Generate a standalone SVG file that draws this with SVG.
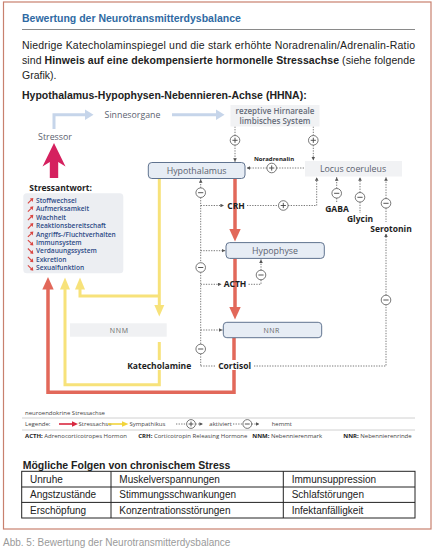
<svg xmlns="http://www.w3.org/2000/svg" xmlns:xlink="http://www.w3.org/1999/xlink" width="438" height="554" viewBox="0 0 438 554">
<style>
.t{font-family:"Liberation Sans",Arial,sans-serif;fill:#222}
.d{font-family:"Open Sans","Noto Sans",sans-serif}
.lbl{font-size:8.8px;fill:#5b6270}
.b{font-weight:bold;fill:#1e1e1e;font-size:8.5px}
.dash{fill:none;stroke:#555;stroke-width:0.8;stroke-dasharray:1.3 1.3}
.circ{fill:#fff;stroke:#555;stroke-width:0.8}
.sign{stroke:#444;stroke-width:0.9;fill:none}
.node{fill:#e7edf5;stroke:#60738f;stroke-width:1}
.red{fill:none;stroke:#e2685a;stroke-width:3.5}
.redf{fill:#e2685a}
.yel{fill:none;stroke:#f7e27a;stroke-width:3}
.yelf{fill:#f7e27a}
.blu{fill:none;stroke:#c6d5ea;stroke-width:3}
.bluf{fill:#c6d5ea}
.item{font-size:6.6px;font-weight:600;fill:#2d4a86}
.lg{font-size:6px;fill:#444}
.cell{font-size:10px;fill:#222}
.rz{font-family:"Open Sans","Noto Sans",sans-serif;font-size:8px;font-weight:600;fill:#666c78}
</style>
<defs>
<marker id="ah" viewBox="0 0 6 6" refX="6" refY="3" markerWidth="3.6" markerHeight="3.6" markerUnits="userSpaceOnUse" orient="auto"><path d="M0,0 L6,3 L0,6 z" fill="#555"/></marker>
<g id="plus"><circle r="4.8" class="circ"/><path d="M-2.6,0 H2.6 M0,-2.6 V2.6" class="sign"/></g>
<g id="minus"><circle r="4.8" class="circ"/><path d="M-2.6,0 H2.6" class="sign"/></g>
<g id="aup"><line x1="-2.6" y1="2.6" x2="1" y2="-1" stroke="#d9443f" stroke-width="1.1"/><polygon points="2.8,-2.8 -0.6,-2.2 2.2,1.2" fill="#d9443f"/></g>
<g id="adn"><line x1="-2.6" y1="-2.6" x2="1" y2="1" stroke="#d9443f" stroke-width="1.1"/><polygon points="2.8,2.8 -0.6,2.2 2.2,-1.2" fill="#d9443f"/></g>
</defs>

<rect x="3.5" y="2" width="427.5" height="527" fill="#fff" stroke="#c8806e" stroke-width="1.2"/>

<g id="header">
<text class="t" x="22" y="22" font-size="10.5" font-weight="bold" style="fill:#2f6aa3">Bewertung der Neurotransmitterdysbalance</text>
<line x1="22" y1="29.5" x2="415" y2="29.5" stroke="#8a8a8a" stroke-width="1"/>
<text class="t" x="22" y="49" font-size="10.5" textLength="393">Niedrige Katecholaminspiegel und die stark erhöhte Noradrenalin/Adrenalin-Ratio</text>
<text class="t" x="22" y="64" font-size="10.5" textLength="393">sind <tspan font-weight="bold">Hinweis auf eine dekompensierte hormonelle Stressachse</tspan> (siehe folgende</text>
<text class="t" x="22" y="78.5" font-size="10.5">Grafik).</text>
<text class="t" x="22" y="99" font-size="10.5" font-weight="bold">Hypothalamus-Hypophysen-Nebennieren-Achse (HHNA):</text>
</g>

<g id="connectors">
<path class="blu" d="M54,129 V114.7 H86"/>
<polygon class="bluf" points="85,109.5 85,120 93.5,114.7"/>
<path class="blu" d="M172,114.7 H217"/>
<polygon class="bluf" points="216,109.5 216,120 224.5,114.7"/>
<line class="red" x1="235" y1="178.5" x2="235" y2="230"/>
<polygon class="redf" points="229.3,229 240.7,229 235,241.5"/>
<line class="red" x1="235" y1="258.5" x2="235" y2="308"/>
<polygon class="redf" points="229.3,307 240.7,307 235,319.5"/>
<path class="red" d="M234,337.5 V392.3 H48 V288"/>
<polygon class="redf" points="42.3,289.5 53.7,289.5 48,277"/>
<line class="yel" x1="159.3" y1="178.5" x2="159.3" y2="306"/>
<polygon class="yelf" points="154.3,305 164.3,305 159.3,316.5"/>
<path class="yel" d="M159.3,296 H80 V288"/>
<polygon class="yelf" points="75,289.5 85,289.5 80,277.5"/>
<path class="yel" d="M159.3,342 V384.7 H65 V288"/>
<polygon class="yelf" points="60,289.5 70,289.5 65,277.5"/>
<line class="dash" x1="235" y1="126.5" x2="235" y2="135.5"/>
<line class="dash" x1="235" y1="145.1" x2="235" y2="161.8" marker-end="url(#ah)"/>
<line class="dash" x1="313.3" y1="126.5" x2="313.3" y2="135.5"/>
<line class="dash" x1="313.3" y1="145.1" x2="313.3" y2="160.5" marker-end="url(#ah)"/>
<line class="dash" x1="304" y1="168" x2="276.5" y2="168"/>
<line class="dash" x1="266.9" y1="168" x2="246.5" y2="168" marker-end="url(#ah)"/>
<line class="dash" x1="247" y1="205.5" x2="278.5" y2="205.5"/>
<polyline class="dash" points="288.1,205.5 316.7,205.5 316.7,177.2" marker-end="url(#ah)"/>
<line class="dash" x1="336.7" y1="188.5" x2="336.7" y2="177.2" marker-end="url(#ah)"/>
<line class="dash" x1="336.7" y1="198.1" x2="336.7" y2="203"/>
<line class="dash" x1="360" y1="192.5" x2="360" y2="177.2" marker-end="url(#ah)"/>
<line class="dash" x1="360" y1="202.1" x2="360" y2="213"/>
<line class="dash" x1="386" y1="198.5" x2="386" y2="177.2" marker-end="url(#ah)"/>
<line class="dash" x1="386" y1="208.1" x2="386" y2="222"/>
<polyline class="dash" points="254,366 386,366 386,304.8"/>
<line class="dash" x1="386" y1="295.2" x2="386" y2="233.5" marker-end="url(#ah)"/>
<line class="dash" x1="200.7" y1="187.9" x2="200.7" y2="179.2" marker-end="url(#ah)"/>
<line class="dash" x1="200.7" y1="197.5" x2="200.7" y2="262.7"/>
<line class="dash" x1="200.7" y1="272.3" x2="200.7" y2="344.2"/>
<line class="dash" x1="200.7" y1="353.8" x2="200.7" y2="366"/>
<line class="dash" x1="200.7" y1="366" x2="215.5" y2="366"/>
<line class="dash" x1="200.7" y1="205.5" x2="224" y2="205.5" marker-end="url(#ah)"/>
<line class="dash" x1="200.7" y1="250.7" x2="225.3" y2="250.7" marker-end="url(#ah)"/>
<line class="dash" x1="200.7" y1="284.3" x2="221.5" y2="284.3" marker-end="url(#ah)"/>
<line class="dash" x1="200.7" y1="330" x2="222.5" y2="330" marker-end="url(#ah)"/>
<polyline class="dash" points="248.5,284.3 261,284.3 261,279.8"/>
<line class="dash" x1="261" y1="270.2" x2="261" y2="259.3" marker-end="url(#ah)"/>
<use href="#plus" x="235" y="140.3"/>
<use href="#plus" x="313.3" y="140.3"/>
<use href="#plus" x="271.7" y="168"/>
<use href="#plus" x="283.3" y="205.5"/>
<use href="#minus" x="336.7" y="193.3"/>
<use href="#minus" x="360" y="197.3"/>
<use href="#minus" x="386" y="203.3"/>
<use href="#minus" x="386" y="300"/>
<use href="#minus" x="200.7" y="192.7"/>
<use href="#minus" x="200.7" y="267.5"/>
<use href="#minus" x="200.7" y="349"/>
<use href="#minus" x="261" y="275"/>
</g>

<g id="sinnesorgane"><text class="d lbl" x="132.5" y="117.8" text-anchor="middle" font-size="9">Sinnesorgane</text></g>
<g id="rezeptive">
<rect x="230.5" y="105" width="89" height="21.5" fill="#f1f2f4"/>
<text class="rz" x="275" y="114" text-anchor="middle">rezeptive Hirnareale</text>
<text class="rz" x="275" y="124.2" text-anchor="middle">limbisches System</text>
</g>
<g id="stressor">
<text class="d lbl" x="55" y="140.3" text-anchor="middle">Stressor</text>
<polygon points="54,143 65.5,166.5 58.2,162 58.2,178 49.8,178 49.8,162 42.5,166.5" fill="#d5215f"/>
</g>
<g id="hypothalamus">
<rect class="node" x="148.3" y="162.5" width="96.7" height="16" rx="3.5"/>
<text class="d lbl" x="196.6" y="173.6" text-anchor="middle">Hypothalamus</text>
</g>
<g id="noradrenalin"><text class="d" x="274" y="160.5" text-anchor="middle" font-size="6" font-weight="bold" fill="#222">Noradrenalin</text></g>
<g id="locus">
<rect x="305" y="161" width="97" height="15.5" fill="#f1f2f4"/>
<text class="d lbl" x="353" y="172.2" text-anchor="middle">Locus coeruleus</text>
</g>
<g id="crh"><text class="d b" x="236" y="208.6" text-anchor="middle">CRH</text></g>
<g id="gaba"><text class="d b" x="337" y="212.2" text-anchor="middle">GABA</text></g>
<g id="glycin"><text class="d b" x="360" y="222.3" text-anchor="middle">Glycin</text></g>
<g id="serotonin"><text class="d b" x="391" y="231.5" text-anchor="middle" font-size="8">Serotonin</text></g>
<g id="hypophyse">
<rect class="node" x="226" y="242.6" width="98.3" height="15.8" rx="3.5"/>
<text class="d lbl" x="275" y="253.7" text-anchor="middle">Hypophyse</text>
</g>
<g id="acth"><text class="d b" x="235" y="287.4" text-anchor="middle">ACTH</text></g>
<g id="nnr">
<rect class="node" x="223.3" y="322.3" width="98.4" height="15.4" rx="3.5"/>
<text class="d" x="271.7" y="332.6" text-anchor="middle" font-size="7" letter-spacing="0.5" fill="#666">NNR</text>
</g>
<g id="nnm">
<rect x="70" y="323.3" width="96.7" height="13.4" fill="#f0f1f3"/>
<text class="d" x="119.3" y="332.6" text-anchor="middle" font-size="7" letter-spacing="0.8" fill="#666">NNM</text>
</g>
<g id="katecholamine">
<rect x="125" y="360" width="68" height="10" fill="#fff"/>
<text class="d b" x="159.2" y="369" text-anchor="middle">Katecholamine</text>
</g>
<g id="cortisol">
<rect x="216.5" y="360" width="36.5" height="10" fill="#fff"/>
<text class="d b" x="234.6" y="369" text-anchor="middle">Cortisol</text>
</g>
<g id="stressantwort">
<text class="d" x="29.3" y="191" font-size="8.5" font-weight="bold" fill="#1e1e1e">Stressantwort:</text>
<rect x="23.3" y="193.3" width="100" height="80" rx="3.5" fill="#eceef2"/>
<use href="#aup" x="30.5" y="200.7"/>
<use href="#aup" x="30.5" y="209.1"/>
<use href="#aup" x="30.5" y="217.5"/>
<use href="#aup" x="30.5" y="225.9"/>
<use href="#aup" x="30.5" y="234.3"/>
<use href="#adn" x="30.5" y="242.7"/>
<use href="#adn" x="30.5" y="251.1"/>
<use href="#adn" x="30.5" y="259.5"/>
<use href="#adn" x="30.5" y="267.9"/>
<text class="d item" x="36" y="203">Stoffwechsel</text>
<text class="d item" x="36" y="211.4">Aufmerksamkeit</text>
<text class="d item" x="36" y="219.8">Wachheit</text>
<text class="d item" x="36" y="228.2">Reaktionsbereitschaft</text>
<text class="d item" x="36" y="236.6">Angriffs-/Fluchtverhalten</text>
<text class="d item" x="36" y="245">Immunsystem</text>
<text class="d item" x="36" y="253.4">Verdauungssystem</text>
<text class="d item" x="36" y="261.8">Exkretion</text>
<text class="d item" x="36" y="270.2">Sexualfunktion</text>
</g>

<g id="legend">
<text class="d lg" x="25" y="415">neuroendokrine Stressachse</text>
<line x1="22" y1="418" x2="415" y2="418" stroke="#c4c4c4" stroke-width="0.8"/>
<text class="d lg" x="25" y="426.3">Legende:</text>
<line x1="59" y1="424" x2="73" y2="424" stroke="#d8283f" stroke-width="1.6"/>
<polygon points="72,421.3 72,426.7 78,424" fill="#d8283f"/>
<text class="d lg" x="78.5" y="426.3">Stressachse</text>
<line x1="108" y1="424" x2="123" y2="424" stroke="#f2d43a" stroke-width="1.6"/>
<polygon points="122,421.3 122,426.7 128.5,424" fill="#f2d43a"/>
<text class="d lg" x="129.5" y="426.3">Sympathikus</text>
<line class="dash" x1="176" y1="424" x2="186.5" y2="424"/>
<line class="dash" x1="195.5" y1="424" x2="203" y2="424" marker-end="url(#ah)"/>
<circle cx="191" cy="424" r="4.4" class="circ"/><path d="M188.6,424 H193.4 M191,421.6 V426.4" class="sign"/>
<text class="d lg" x="209.3" y="426.3">aktiviert</text>
<line class="dash" x1="233" y1="424" x2="243" y2="424"/>
<line class="dash" x1="251.7" y1="424" x2="259.5" y2="424" marker-end="url(#ah)"/>
<circle cx="247.3" cy="424" r="4.4" class="circ"/><path d="M244.9,424 H249.7" class="sign"/>
<text class="d lg" x="271.7" y="426.3">hemmt</text>
<line x1="22" y1="430" x2="415" y2="430" stroke="#c4c4c4" stroke-width="0.8"/>
<text class="d lg" x="25" y="438.3"><tspan font-weight="bold" fill="#222">ACTH:</tspan> Adrenocorticotropes Hormon</text>
<text class="d lg" x="138.3" y="438.3"><tspan font-weight="bold" fill="#222">CRH:</tspan> Corticotropin Releasing Hormone</text>
<text class="d lg" x="252.3" y="438.3"><tspan font-weight="bold" fill="#222">NNM:</tspan> Nebennierenmark</text>
<text class="d lg" x="343.3" y="438.3"><tspan font-weight="bold" fill="#222">NNR:</tspan> Nebennierenrinde</text>
</g>

<g id="table">
<text class="t" x="22.7" y="469" font-size="10.5" font-weight="bold">Mögliche Folgen von chronischem Stress</text>
<rect x="21.7" y="471.3" width="393.3" height="46.7" fill="none" stroke="#222" stroke-width="1"/>
<line x1="21.7" y1="487" x2="415" y2="487" stroke="#222" stroke-width="1"/>
<line x1="21.7" y1="502.4" x2="415" y2="502.4" stroke="#222" stroke-width="1"/>
<line x1="111" y1="471.3" x2="111" y2="518" stroke="#222" stroke-width="1"/>
<line x1="283.3" y1="471.3" x2="283.3" y2="518" stroke="#222" stroke-width="1"/>
<text class="t cell" x="30" y="482.5">Unruhe</text>
<text class="t cell" x="119.3" y="482.5">Muskelverspannungen</text>
<text class="t cell" x="291.7" y="482.5">Immunsuppression</text>
<text class="t cell" x="30" y="498">Angstzustände</text>
<text class="t cell" x="119.3" y="498">Stimmungsschwankungen</text>
<text class="t cell" x="291.7" y="498">Schlafstörungen</text>
<text class="t cell" x="30" y="513.5">Erschöpfung</text>
<text class="t cell" x="119.3" y="513.5">Konzentrationsstörungen</text>
<text class="t cell" x="291.7" y="513.5">Infektanfälligkeit</text>
</g>

<text class="t" x="3" y="546" font-size="10" style="fill:#9a9a9a">Abb. 5: Bewertung der Neurotransmitterdysbalance</text>
</svg>
